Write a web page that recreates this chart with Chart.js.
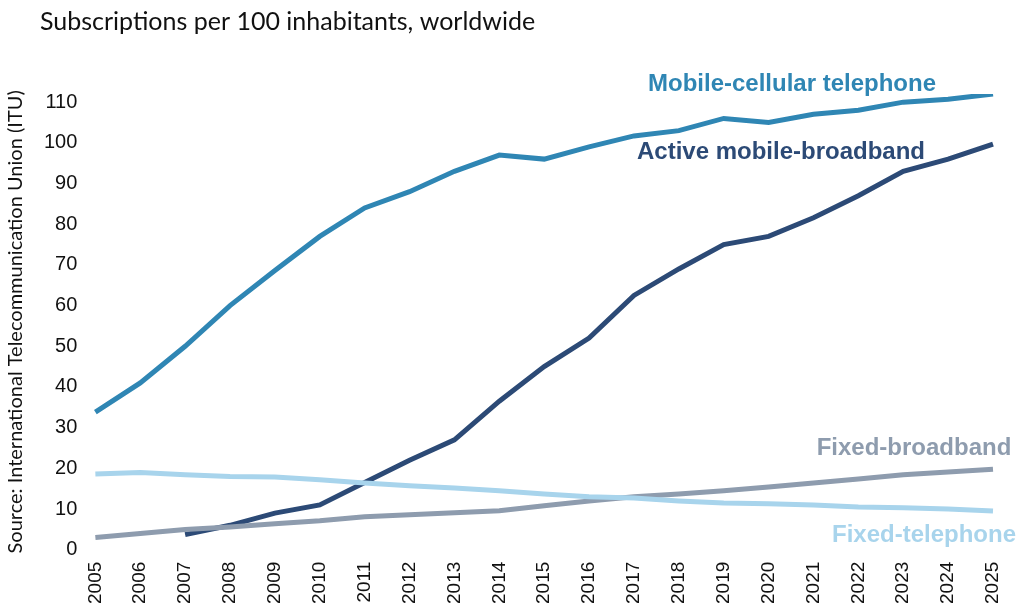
<!DOCTYPE html>
<html>
<head>
<meta charset="utf-8">
<script src="https://cdn.jsdelivr.net/npm/chart.js@4"></script>
<style>
  html, body { margin: 0; padding: 0; background: #fff; }
  #wrap { width: 1024px; height: 610px; position: relative; }
</style>
</head>
<body>
<div id="wrap"><canvas id="chart" width="1024" height="610"></canvas></div>
<script>
const years = ["2005","2006","2007","2008","2009","2010","2011","2012","2013","2014","2015",
               "2016","2017","2018","2019","2020","2021","2022","2023","2024","2025"];
const mobileCellular = [33.8, 41, 50, 60, 68.6, 77, 84, 88, 93, 97, 96, 99, 101.7, 103, 106, 105, 107, 108, 110, 110.7, 112];
const mobileBroadband = [null, null, 3.7, 6, 9, 11, 16.5, 22, 27, 36.5, 45, 52, 62.5, 69, 75, 77, 81.6, 87, 93, 96, 99.7];
const fixedTelephone = [18.6, 19, 18.4, 18, 17.9, 17.2, 16.4, 15.7, 15.2, 14.5, 13.7, 13, 12.7, 12, 11.5, 11.3, 11, 10.5, 10.3, 10, 9.5];
const fixedBroadband = [3, 4, 5, 5.6, 6.4, 7.1, 8.1, 8.6, 9.1, 9.6, 10.8, 12, 13, 13.7, 14.5, 15.4, 16.4, 17.4, 18.4, 19.1, 19.8];
const yTicks = [0, 10, 20, 30, 40, 50, 60, 70, 80, 90, 100, 110];

// series labels drawn on the canvas
const seriesLabels = [
  { text: "Mobile-cellular telephone", x: 792, y: 84, color: "#2f86b4" },
  { text: "Active mobile-broadband", x: 781, y: 152, color: "#2c4a76" },
  { text: "Fixed-broadband", x: 914, y: 448, color: "#8e9cae" },
  { text: "Fixed-telephone", x: 924, y: 535, color: "#a8d4ec" }
];

const labelPlugin = {
  id: "labels",
  afterDatasetsDraw(chart) {
    const ctx = chart.ctx;
    ctx.save();
    ctx.font = "bold 24px 'Liberation Sans', Arial, sans-serif";
    ctx.textAlign = "center";
    ctx.textBaseline = "middle";
    seriesLabels.forEach(l => { ctx.fillStyle = l.color; ctx.fillText(l.text, l.x, l.y); });
    ctx.font = "25px Lato, 'Open Sans', sans-serif";
    ctx.fillStyle = "#111";
    ctx.textAlign = "left";
    ctx.fillText("Subscriptions per 100 inhabitants, worldwide", 40, 22);
    ctx.restore();
  }
};

function line(data, color) {
  return { data, borderColor: color, borderWidth: 5, pointRadius: 0, tension: 0, fill: false, spanGaps: false };
}

new Chart(document.getElementById("chart"), {
  type: "line",
  data: {
    labels: years,
    datasets: [
      line(fixedTelephone, "#a8d4ec"),
      line(fixedBroadband, "#8e9cae"),
      line(mobileBroadband, "#2c4a76"),
      line(mobileCellular, "#2f86b4")
    ]
  },
  options: {
    responsive: false,
    animation: false,
    layout: { padding: { top: 94, right: 31, left: 0, bottom: 2 } },
    plugins: { legend: { display: false }, tooltip: { enabled: false } },
    scales: {
      x: {
        offset: false,
        grid: { display: false },
        border: { display: false },
        ticks: { color: "#111", font: { size: 19, family: "'Liberation Sans', Arial" }, minRotation: 90, maxRotation: 90, padding: 4 }
      },
      y: {
        min: 0, max: 112,
        afterBuildTicks: axis => { axis.ticks = yTicks.map(v => ({ value: v })); },
        grid: { display: false },
        border: { display: false },
        ticks: { color: "#111", font: { size: 20, family: "'Liberation Sans', Arial" }, padding: 10 },
        title: { display: true, text: "Source: International Telecommunication Union (ITU)", color: "#111",
                 font: { size: 20, family: "Lato, 'Open Sans', sans-serif" }, padding: { bottom: 6 } }
      }
    }
  },
  plugins: [labelPlugin]
});
</script>
</body>
</html>
